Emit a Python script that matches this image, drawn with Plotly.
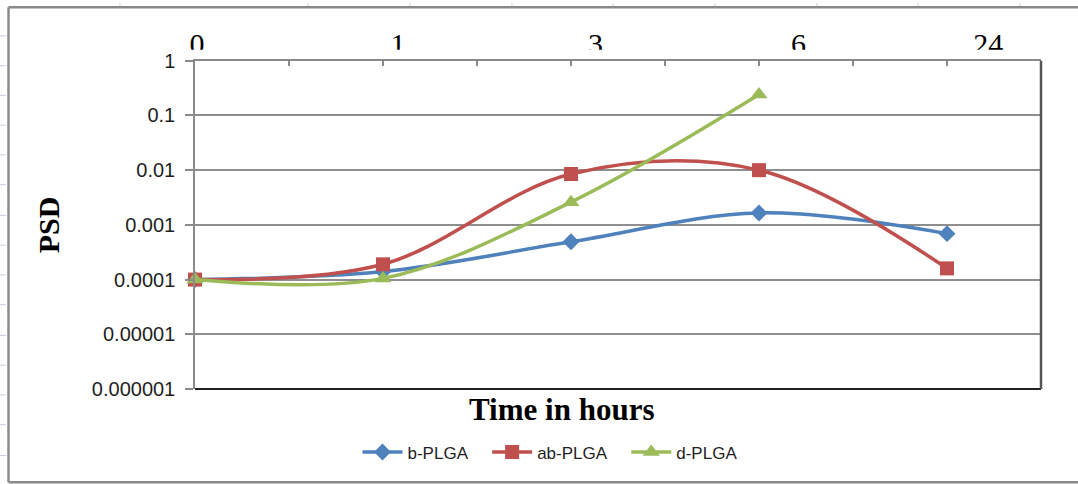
import plotly.graph_objects as go

# ---------------- data ----------------
time_labels = ["0", "1", "3", "6", "24"]
b_plga = [1.0e-4, 1.4e-4, 4.9e-4, 1.65e-3, 6.9e-4]
ab_plga = [1.0e-4, 1.9e-4, 8.5e-3, 1.0e-2, 1.6e-4]
d_plga = [1.0e-4, 1.05e-4, 2.6e-3, 2.4e-1]
y_tick_vals = [1e-6, 1e-5, 1e-4, 1e-3, 1e-2, 1e-1, 1]
y_tick_text = ["0.000001", "0.00001", "0.0001", "0.001", "0.01", "0.1", "1"]

# ---------------- styling / layout helpers ----------------
W, H = 1078, 484
L, R, T, B = 150, 37, 20, 95
PLOT_LEFT = 195
PW, PH = W - L - R, H - T - B
X_MAX = 4.5
UNIT = (W - R - PLOT_LEFT) / X_MAX
label_shift = [0.01, 0.08, 0.13, 0.21, 0.22]  # manual placement of the top text boxes


def px(X):
    return (X - L) / PW


def py(Y):
    return (H - B - Y) / PH


main_top = py(58)
lab_bottom = py(47)

xidx = list(range(len(time_labels)))

fig = go.Figure()

series = [
    ("b-PLGA", b_plga, "#4F81BD", "diamond", 13),
    ("ab-PLGA", ab_plga, "#C0504D", "square", 14),
    ("d-PLGA", d_plga, "#9BBB59", "triangle-up", 15),
]
pad = "\u00a0\u00a0\u00a0"
for name, vals, col, sym, size in series:
    fig.add_trace(go.Scatter(
        x=xidx[:len(vals)], y=vals, name=name + pad, mode="lines+markers",
        line=dict(color=col, width=3.5, shape="spline", smoothing=1.0),
        marker=dict(symbol=sym, size=size, color=col),
        cliponaxis=False,
    ))

# top (clipped) category labels
fig.add_trace(go.Scatter(
    x=[i + s for i, s in zip(xidx, label_shift)], y=[0.13] * len(time_labels),
    text=time_labels, mode="text", textposition="middle center",
    textfont=dict(family="Liberation Serif", size=30, color="#000"),
    xaxis="x2", yaxis="y2", showlegend=False, hoverinfo="skip", cliponaxis=True,
))

grey = "#8a8a8a"
fig.update_layout(
    width=W, height=H, margin=dict(l=L, r=R, t=T, b=B),
    paper_bgcolor="white", plot_bgcolor="white",
    xaxis=dict(domain=[px(PLOT_LEFT), 1], range=[0, X_MAX], side="top", anchor="y",
               showline=True, linecolor=grey, linewidth=1.5,
               ticks="inside", ticklen=6, tickcolor=grey, tickwidth=1.5,
               tick0=0, dtick=0.5, showticklabels=False, showgrid=False, zeroline=False),
    yaxis=dict(domain=[0, main_top], type="log", range=[-6, 0], anchor="x",
               tickvals=y_tick_vals, ticktext=y_tick_text,
               tickfont=dict(family="Liberation Sans", size=20, color="#1f1f1f"),
               ticklabelstandoff=6,
               showline=True, linecolor=grey, linewidth=1.5,
               ticks="outside", ticklen=8, tickcolor=grey, tickwidth=1.5,
               showgrid=True, gridcolor="#8e8e8e", gridwidth=1.5, zeroline=False),
    xaxis2=dict(domain=[0, 1], range=[-(PLOT_LEFT - L) / UNIT, X_MAX], anchor="y2", visible=False),
    yaxis2=dict(domain=[lab_bottom, 1], range=[0, 1], anchor="x2", visible=False),
    legend=dict(orientation="h", x=px(557), xanchor="center", y=py(453), yanchor="middle",
                font=dict(family="Liberation Sans", size=17, color="#1f1f1f"),
                bgcolor="rgba(0,0,0,0)", itemwidth=40, tracegroupgap=0),
    showlegend=True,
)

shapes = [
    # bottom axis line (dark) and right edge of plot
    dict(type="line", xref="x domain", yref="y domain", x0=0, x1=1, y0=0, y1=0,
         line=dict(color="#222", width=2)),
    dict(type="line", xref="x domain", yref="y domain", x0=1, x1=1, y0=0, y1=1,
         line=dict(color="#555", width=2.5)),
    # chart area border
    dict(type="line", xref="paper", yref="paper", x0=px(8.5), x1=px(8.5), y0=py(4), y1=py(483),
         line=dict(color=grey, width=2.5)),
    dict(type="line", xref="paper", yref="paper", x0=px(8.5), x1=px(1078), y0=py(4), y1=py(4),
         line=dict(color=grey, width=2.5)),
    dict(type="line", xref="paper", yref="paper", x0=px(8.5), x1=px(1078), y0=py(483), y1=py(483),
         line=dict(color=grey, width=2.5)),
]
# faint spreadsheet cell lines peeking outside the chart
for Y in [33, 63, 93, 123, 153, 183, 214, 244, 274, 304, 335, 365, 395, 425, 456]:
    shapes.append(dict(type="line", xref="paper", yref="paper", x0=px(0), x1=px(6), y0=py(Y), y1=py(Y),
                       line=dict(color="#c5cde0", width=1)))
for X in [120, 308, 410, 512, 613, 715, 817, 918, 1020]:
    shapes.append(dict(type="line", xref="paper", yref="paper", x0=px(X), x1=px(X), y0=py(0), y1=py(3),
                       line=dict(color="#c5cde0", width=1)))
fig.update_layout(shapes=shapes)

fig.add_annotation(text="<b>PSD</b>", xref="paper", yref="paper", x=px(48), y=py(224),
                   textangle=-90, showarrow=False, xanchor="center", yanchor="middle",
                   font=dict(family="Liberation Serif", size=30, color="#000"))
fig.add_annotation(text="<b>Time in hours</b>", xref="paper", yref="paper", x=px(561), y=py(410),
                   showarrow=False, xanchor="center", yanchor="middle",
                   font=dict(family="Liberation Serif", size=31, color="#000"))

fig.write_html("out.html")
